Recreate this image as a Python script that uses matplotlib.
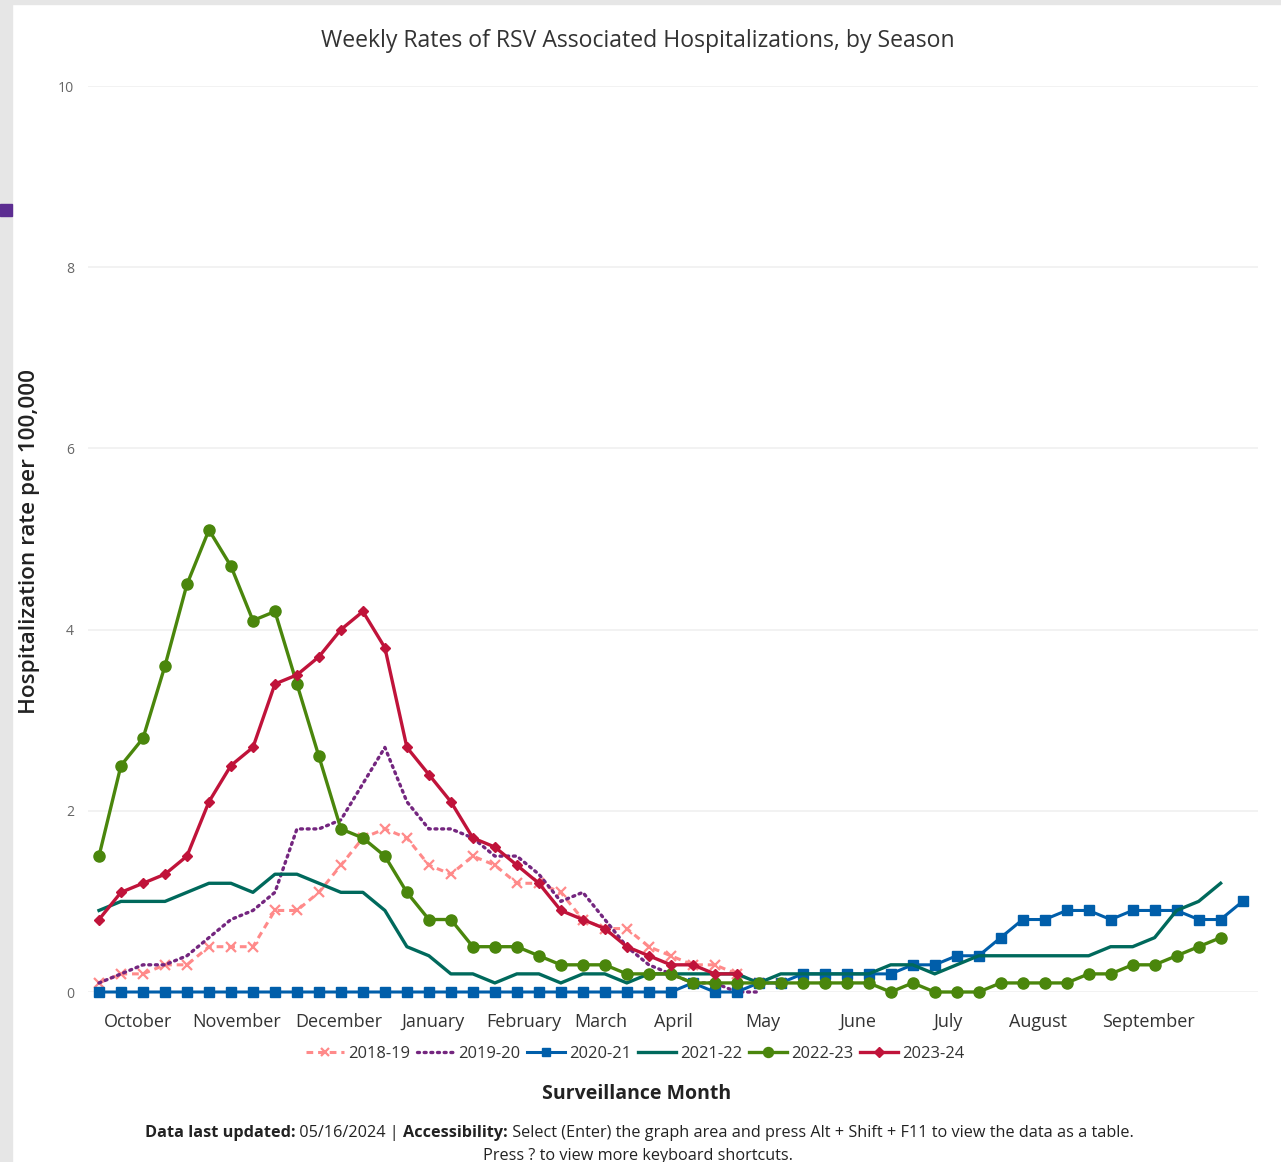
import matplotlib
matplotlib.use('Agg')
import matplotlib.pyplot as plt
from matplotlib.patches import Rectangle
import numpy as np

# weekly rates per 100,000 (index 0 = first week of October)
SEASONS = ['2018-19', '2019-20', '2020-21', '2021-22', '2022-23', '2023-24']

rate_2018_19 = [0.1, 0.2, 0.2, 0.3, 0.3, 0.5, 0.5, 0.5, 0.9, 0.9, 1.1, 1.4, 1.7, 1.8, 1.7, 1.4,
                1.3, 1.5, 1.4, 1.2, 1.2, 1.1, 0.8, 0.7, 0.7, 0.5, 0.4, 0.3, 0.3, 0.2, 0.1, 0.1]
rate_2019_20 = [0.1, 0.2, 0.3, 0.3, 0.4, 0.6, 0.8, 0.9, 1.1, 1.8, 1.8, 1.9, 2.3, 2.7, 2.1, 1.8,
                1.8, 1.7, 1.5, 1.5, 1.3, 1.0, 1.1, 0.8, 0.5, 0.3, 0.2, 0.1, 0.1, 0.0, 0.0]
rate_2020_21 = [0.0] * 27 + [0.1, 0.0, 0.0, 0.1, 0.1, 0.2, 0.2, 0.2, 0.2, 0.2, 0.3, 0.3, 0.4,
                             0.4, 0.6, 0.8, 0.8, 0.9, 0.9, 0.8, 0.9, 0.9, 0.9, 0.8, 0.8, 1.0]
rate_2021_22 = [0.9, 1.0, 1.0, 1.0, 1.1, 1.2, 1.2, 1.1, 1.3, 1.3, 1.2, 1.1, 1.1, 0.9, 0.5, 0.4,
                0.2, 0.2, 0.1, 0.2, 0.2, 0.1, 0.2, 0.2, 0.1, 0.2, 0.2, 0.2, 0.2, 0.2, 0.1, 0.2,
                0.2, 0.2, 0.2, 0.2, 0.3, 0.3, 0.2, 0.3, 0.4, 0.4, 0.4, 0.4, 0.4, 0.4, 0.5, 0.5,
                0.6, 0.9, 1.0, 1.2]
rate_2022_23 = [1.5, 2.5, 2.8, 3.6, 4.5, 5.1, 4.7, 4.1, 4.2, 3.4, 2.6, 1.8, 1.7, 1.5, 1.1, 0.8,
                0.8, 0.5, 0.5, 0.5, 0.4, 0.3, 0.3, 0.3, 0.2, 0.2, 0.2, 0.1, 0.1, 0.1, 0.1, 0.1,
                0.1, 0.1, 0.1, 0.1, 0.0, 0.1, 0.0, 0.0, 0.0, 0.1, 0.1, 0.1, 0.1, 0.2, 0.2, 0.3,
                0.3, 0.4, 0.5, 0.6]
rate_2023_24 = [0.8, 1.1, 1.2, 1.3, 1.5, 2.1, 2.5, 2.7, 3.4, 3.5, 3.7, 4.0, 4.2, 3.8, 2.7, 2.4,
                2.1, 1.7, 1.6, 1.4, 1.2, 0.9, 0.8, 0.7, 0.5, 0.4, 0.3, 0.3, 0.2, 0.2]

MONTHS = ['October', 'November', 'December', 'January', 'February', 'March', 'April',
          'May', 'June', 'July', 'August', 'September']
MONTH_POS = [1.77, 6.27, 10.9, 15.2, 19.3, 22.8, 26.1, 30.2, 34.5, 38.6, 42.7, 47.7]
Y_TICKS = [0, 2, 4, 6, 8, 10]

STYLE = {
    '2018-19': dict(color='#ff8a8a', ls=(0, (2.2, 1.6)), marker='x', ms=7, mew=1.6, lw=2.2),
    '2019-20': dict(color='#74267f', ls=(0, (0.6, 1.4)), marker=None, lw=2.4, dash_capstyle='round'),
    '2020-21': dict(color='#005eaa', ls='-', marker='s', ms=7, lw=2.2),
    '2021-22': dict(color='#00695c', ls='-', marker=None, lw=2.4),
    '2022-23': dict(color='#4a860c', ls='-', marker='o', ms=8, lw=2.4),
    '2023-24': dict(color='#c0133a', ls='-', marker='D', ms=5.5, lw=2.4),
}

plt.rcParams['font.family'] = ['Open Sans', 'DejaVu Sans']


def px(p):
    return p * 72 / 100


W, H = 1281, 1162
fig = plt.figure(figsize=(W / 100, H / 100), dpi=100)
fig.patch.set_facecolor('white')

# page chrome: grey frame on the left/top
fig.add_artist(Rectangle((0, 0), 12 / W, 1, transform=fig.transFigure, color='#e6e6e6', zorder=-5))
fig.add_artist(Rectangle((0, 1 - 4 / H), 1, 4 / H, transform=fig.transFigure, color='#e6e6e6', zorder=-5))
fig.add_artist(Rectangle((0, 1 - 216 / H), 12 / W, 12 / H, transform=fig.transFigure, color='#5c2d91', zorder=-4))

ax = fig.add_axes([88 / W, 1 - 992 / H, (1258 - 88) / W, (992 - 86) / H])

series = dict(zip(SEASONS, [rate_2018_19, rate_2019_20, rate_2020_21,
                            rate_2021_22, rate_2022_23, rate_2023_24]))
handles = []
for z, name in enumerate(SEASONS):
    vals = series[name]
    st = dict(STYLE[name])
    h, = ax.plot(np.arange(len(vals)), vals, label=name, clip_on=False, zorder=3 + z,
                 **st)
    handles.append(h)

ax.set_xlim(-0.5, 52.7)
ax.set_ylim(0, 10)
ax.set_yticks(Y_TICKS)
ax.set_yticklabels([str(v) for v in Y_TICKS], fontsize=px(14), color='#666666')
ax.set_xticks(MONTH_POS)
ax.set_xticklabels(MONTHS, fontsize=px(18), color='#333333')
ax.tick_params(axis='both', length=0)
ax.tick_params(axis='y', pad=10)
ax.tick_params(axis='x', pad=15)
ax.grid(axis='y', color='#f0f0f0', lw=1.2, zorder=0)
for s in ax.spines.values():
    s.set_visible(False)

ax.set_ylabel('Hospitalization rate per 100,000', fontsize=px(22.5), color='#222222',
              fontweight='semibold', va='center')
ax.yaxis.set_label_coords((30 - 88) / 1170, (992 - 541) / 906)

fig.text(638 / W, 1 - 41 / H, 'Weekly Rates of RSV Associated Hospitalizations, by Season',
         ha='center', va='center', fontsize=px(23), color='#333333')

fig.legend(handles=handles, loc='center', bbox_to_anchor=(635 / W, 1 - 1054 / H),
           ncol=6, frameon=False, fontsize=px(16.5), labelcolor='#333333',
           handlelength=2.3, handletextpad=0.25, columnspacing=0.4, numpoints=1,
           markerscale=0.9)

fig.text(637 / W, 1 - 1094 / H, 'Surveillance Month', ha='center', va='center',
         fontsize=px(19.5), fontweight='bold', color='#222222')

# footer with mixed bold/regular runs
fig.canvas.draw()
r = fig.canvas.get_renderer()
runs = [('Data last updated:', 'bold'), (' 05/16/2024 | ', 'normal'),
        ('Accessibility:', 'bold'),
        (' Select (Enter) the graph area and press Alt + Shift + F11 to view the data as a table.',
         'normal')]
texts = []
for s, w in runs:
    texts.append(fig.text(0, 1 - 1133 / H, s, fontsize=px(16.3), fontweight=w,
                          color='#222222', va='center', ha='left'))
widths = [t.get_window_extent(r).width for t in texts]
x0 = 639 - sum(widths) / 2
for t, wd in zip(texts, widths):
    t.set_x(x0 / W)
    x0 += wd
fig.text(638 / W, 1 - 1156 / H, 'Press ? to view more keyboard shortcuts.', ha='center',
         va='center', fontsize=px(16.3), color='#222222')

fig.savefig('out.png', dpi=100, facecolor='white')
